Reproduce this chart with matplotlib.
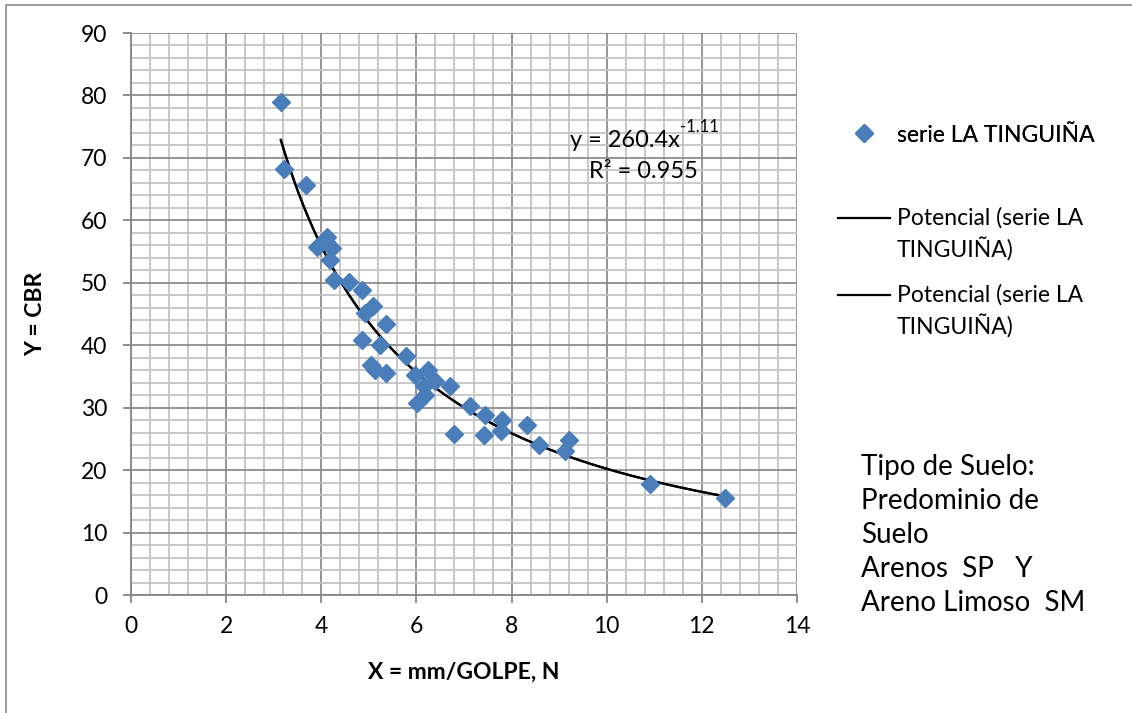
import numpy as np
import matplotlib
matplotlib.use("Agg")
import matplotlib.pyplot as plt
from matplotlib.legend_handler import HandlerLine2D
from matplotlib.lines import Line2D
from matplotlib.patches import Rectangle
from matplotlib.ticker import MultipleLocator

plt.rcParams['font.family'] = ['Lato', 'DejaVu Sans']

# ---- data ----
x_vals = [3.15, 3.22, 3.68, 3.90, 4.13, 4.10, 4.22, 4.18, 4.27, 4.58, 4.85, 5.09,
          4.92, 5.36, 4.86, 5.23, 5.05, 5.12, 5.36, 5.78, 5.97, 6.25, 6.15, 6.39,
          6.71, 6.18, 6.01, 7.13, 6.78, 7.44, 7.79, 7.41, 7.77, 8.33, 8.58, 9.21,
          9.12, 10.91, 12.49]
y_vals = [78.9, 68.3, 65.7, 55.8, 57.3, 56.6, 55.5, 53.7, 50.4, 50.2, 48.8, 46.3,
          45.1, 43.4, 40.8, 40.0, 36.8, 36.0, 35.6, 38.3, 35.2, 36.0, 33.5, 34.2,
          33.4, 32.0, 30.7, 30.2, 25.8, 28.8, 28.1, 25.6, 26.2, 27.2, 24.1, 24.9,
          23.1, 17.7, 15.5]
fit_a = 260.4
fit_b = -1.11
r2 = 0.955
series_label = "serie LA TINGUIÑA"
trend_label = "Potencial (serie LA\nTINGUIÑA)"
note_lines = ["Tipo de Suelo:", "Predominio de", "Suelo", "Arenos  SP   Y", "Areno Limoso  SM"]
x_label = "X = mm/GOLPE, N"
y_label = "Y = CBR"

W, H = 1132, 713
fig = plt.figure(figsize=(W / 100, H / 100), dpi=100)
ax = fig.add_axes([131 / W, (H - 595) / H, (797 - 131) / W, (595 - 33) / H])

marker_color = "#4A7EBB"
sc, = ax.plot(x_vals, y_vals, linestyle='none', marker='D', ms=9.5,
              color=marker_color, mec=marker_color, zorder=5, label=series_label)

xf = np.linspace(min(x_vals), max(x_vals), 300)
yf = fit_a * xf ** fit_b
t1, = ax.plot(xf, yf, color='black', lw=1.6, zorder=4, label=trend_label)
t2, = ax.plot(xf, yf, color='black', lw=1.6, zorder=4, label=trend_label)

ax.set_xlim(0, 14)
ax.set_ylim(0, 90)
ax.xaxis.set_major_locator(MultipleLocator(2))
ax.xaxis.set_minor_locator(MultipleLocator(0.4))
ax.yaxis.set_major_locator(MultipleLocator(10))
ax.yaxis.set_minor_locator(MultipleLocator(2))
ax.grid(which='major', color='#8C8C8C', lw=1.3, zorder=1)
ax.grid(which='minor', color='#C4C4C4', lw=1.3, zorder=0)
ax.set_axisbelow(True)
for s in ['top', 'right']:
    ax.spines[s].set_visible(False)
for s in ['left', 'bottom']:
    ax.spines[s].set_color('#868686')
    ax.spines[s].set_linewidth(1.3)
ax.tick_params(which='major', direction='out', length=6, width=1.3, color='#868686',
               labelsize=16.5, pad=11)
ax.tick_params(axis='x', which='major', pad=9)
ax.tick_params(which='minor', length=0)

ax.set_xlabel(x_label, fontsize=16.5, fontweight='bold', labelpad=18)
ax.set_ylabel(y_label, fontsize=16.5, fontweight='bold', labelpad=25)

# equation
eq = fig.text(570 / W, (H - 147) / H, "y = 260.4x", fontsize=17, ha='left', va='baseline')
ax.annotate("-1.11", xy=(1.0, 0.78), xycoords=eq, fontsize=12, ha='left', va='bottom')
fig.text(643 / W, (H - 171) / H, "R² = 0.955", fontsize=17, ha='center', va='center')


class OffsetLineHandler(HandlerLine2D):
    def __init__(self, offset=0, **kw):
        super().__init__(**kw)
        self.offset = offset

    def create_artists(self, legend, orig_handle, xdescent, ydescent, width, height,
                       fontsize, trans):
        arts = super().create_artists(legend, orig_handle, xdescent, ydescent, width,
                                      height, fontsize, trans)
        for a in arts:
            a.set_ydata(np.asarray(a.get_ydata()) + self.offset)
        return arts


leg1 = fig.legend([sc], [series_label], loc='center left',
                  bbox_to_anchor=(838 / W, (H - 135) / H), frameon=False,
                  fontsize=16.5, borderpad=0, borderaxespad=0, handlelength=2.27,
                  handletextpad=0.3, numpoints=1)
leg2 = fig.legend([t1, t2], [trend_label, trend_label], loc='center left',
                  bbox_to_anchor=(838 / W, (H - 273) / H), frameon=False,
                  fontsize=16.5, borderpad=0, borderaxespad=0, handlelength=2.27,
                  handletextpad=0.3, labelspacing=0.98,
                  handler_map={Line2D: OffsetLineHandler(offset=12)})
fig.add_artist(leg1)
for t in leg2.get_texts():
    t.set_linespacing(1.45)

fig.text(861 / W, (H - 535) / H, "\n".join(note_lines), fontsize=20, ha='left',
         va='center', linespacing=1.38)

# chart area border
fig.add_artist(Rectangle((5.5 / W, -0.1), 1.2, (H - 5.5) / H + 0.1, transform=fig.transFigure,
                         fill=False, edgecolor='#8A8A8A', lw=1.2))

fig.savefig("out.png", dpi=100)
